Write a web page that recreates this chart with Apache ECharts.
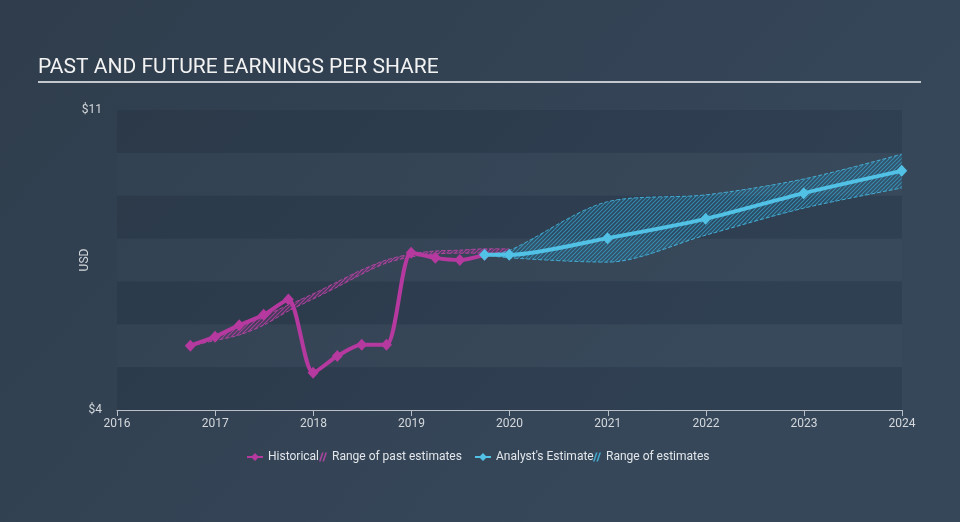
<!DOCTYPE html>
<html><head><meta charset="utf-8">
<script src="https://cdn.jsdelivr.net/npm/echarts@6/dist/echarts.min.js"></script>
<style>html,body{margin:0;padding:0;background:#334252}#c{width:960px;height:522px}</style>
</head><body><div id="c"></div>
<script>
// ---- data ----
const histDates = ['2016-09-30','2016-12-31','2017-03-31','2017-06-30','2017-09-30','2017-12-31','2018-03-31','2018-06-30','2018-09-30','2018-12-31','2019-03-31','2019-06-30','2019-09-30'];
const histEPS   = [5.50,5.71,5.98,6.22,6.58,4.87,5.26,5.52,5.52,7.67,7.55,7.50,7.62];

const pastDates = ['2016-09-30','2016-12-31','2017-03-31','2017-06-30','2017-09-30','2017-12-31','2018-03-31','2018-06-30','2018-09-30','2018-12-31','2019-03-31','2019-06-30','2019-09-30','2019-12-31'];
const pastLow   = [5.50,5.62,5.75,5.98,6.31,6.59,6.87,7.17,7.43,7.57,7.64,7.66,7.66,7.69];
const pastHigh  = [5.50,5.73,5.94,6.19,6.45,6.71,6.99,7.27,7.50,7.64,7.71,7.73,7.76,7.76];

const estDates = ['2019-09-30','2019-12-31','2020-12-31','2021-12-31','2022-12-31','2023-12-31'];
const estEPS   = [7.62,7.62,8.01,8.46,9.06,9.58];
const estLow   = [7.62,7.55,7.45,8.08,8.71,9.18];
const estHigh  = [7.62,7.72,8.86,9.02,9.39,9.97];

const yTickLabels = {4:'$4', 11:'$11'};

// ---- helpers ----
function hatch(line, fill){
  const s=4;
  const c=document.createElement('canvas'); c.width=s; c.height=s;
  const g=c.getContext('2d');
  g.fillStyle=fill; g.fillRect(0,0,s,s);
  g.strokeStyle=line; g.lineWidth=1.1;
  g.beginPath(); g.moveTo(0,s); g.lineTo(s,0); g.moveTo(-1,1); g.lineTo(1,-1); g.moveTo(s-1,s+1); g.lineTo(s+1,s-1); g.stroke();
  return c;
}
const pair=(d,v)=>d.map((x,i)=>[x,v[i]]);
const diff=(d,hi,lo)=>d.map((x,i)=>[x,+(hi[i]-lo[i]).toFixed(3)]);

const MAG='#b5399f', BLU='#52c1e6';
const MAG_H='rgba(190,70,170,0.85)', BLU_H='rgba(70,185,225,0.85)';
const lineIcon='path://M0,3 H5 L8,0 L11,3 H16 V5 H11 L8,8 L5,5 H0 Z';
const hatchIcon='path://M0,9 L1.6,9 L4.6,0 L3,0 Z M3.4,9 L5,9 L8,0 L6.4,0 Z';
const FONT='Roboto, "Noto Sans", sans-serif';

const legendBase={top:451,textStyle:{color:'#e2e6ea',fontSize:12,fontFamily:FONT},selectedMode:false,itemGap:4,padding:0};

const chart=echarts.init(document.getElementById('c'),null,{renderer:'canvas'});
chart.setOption({
  backgroundColor:{type:'linear',x:0,y:0,x2:0.6,y2:1,colorStops:[{offset:0,color:'#2f3d4c'},{offset:1,color:'#36475a'}]},
  animation:false,
  title:{text:'PAST AND FUTURE EARNINGS PER SHARE',left:38,top:57,padding:0,textStyle:{color:'#f2f2f2',fontSize:21,fontWeight:'normal',fontFamily:FONT}},
  graphic:[{type:'line',shape:{x1:38,y1:82,x2:921,y2:82},style:{stroke:'#c3c8ce',lineWidth:2}}],
  grid:{left:117,right:58,top:110,bottom:112},
  legend:[
    Object.assign({},legendBase,{left:247,itemWidth:16,itemHeight:8,data:[{name:'Historical',icon:lineIcon}]}),
    Object.assign({},legendBase,{left:319,itemWidth:8,itemHeight:9,data:[{name:'Range of past estimates',icon:hatchIcon}]}),
    Object.assign({},legendBase,{left:475,itemWidth:16,itemHeight:8,data:[{name:"Analyst's Estimate",icon:lineIcon}]}),
    Object.assign({},legendBase,{left:593,itemWidth:8,itemHeight:9,data:[{name:'Range of estimates',icon:hatchIcon}]})
  ],
  xAxis:{type:'time',min:'2016-01-01',max:'2024-01-01',splitNumber:8,
    axisLine:{lineStyle:{color:'#b8bfc6',width:1}},
    axisTick:{show:true,length:6,lineStyle:{color:'#b8bfc6'}},
    axisLabel:{color:'#d4d8dc',fontSize:12,fontFamily:FONT,margin:8,formatter:'{yyyy}',showMinLabel:true,showMaxLabel:true,hideOverlap:false},
    splitLine:{show:false}},
  yAxis:{type:'value',min:4,max:11,interval:1,name:'USD',nameLocation:'middle',nameGap:26,nameMoveOverlap:false,
    nameTextStyle:{color:'#d4d8dc',fontSize:12,fontFamily:FONT},
    axisLine:{show:false},axisTick:{show:false},splitLine:{show:false},
    axisLabel:{color:'#d4d8dc',fontSize:12,fontFamily:FONT,margin:15,formatter:v=>yTickLabels[v]||''},
    splitArea:{show:true,areaStyle:{color:['rgba(10,20,32,0.12)','rgba(255,255,255,0.012)']}}},
  series:[
    {name:'pastLow',type:'line',stack:'past',data:pair(pastDates,pastLow),smooth:0.3,symbol:'none',
      lineStyle:{color:MAG_H,width:1,type:'dashed'},z:1,silent:true},
    {name:'Range of past estimates',type:'line',stack:'past',data:diff(pastDates,pastHigh,pastLow),smooth:0.3,symbol:'none',
      itemStyle:{color:MAG_H},lineStyle:{color:MAG_H,width:1,type:'dashed'},
      areaStyle:{color:{image:hatch('rgba(185,65,165,0.8)','rgba(150,50,140,0.2)'),repeat:'repeat'},opacity:1},z:1,silent:true},
    {name:'estLow',type:'line',stack:'est',data:pair(estDates,estLow),smooth:0.3,symbol:'none',
      lineStyle:{color:BLU_H,width:1,type:'dashed'},z:1,silent:true},
    {name:'Range of estimates',type:'line',stack:'est',data:diff(estDates,estHigh,estLow),smooth:0.3,symbol:'none',
      itemStyle:{color:BLU_H},lineStyle:{color:BLU_H,width:1,type:'dashed'},
      areaStyle:{color:{image:hatch('rgba(60,170,215,0.65)','rgba(30,120,165,0.2)'),repeat:'repeat'},opacity:1},z:1,silent:true},
    {name:'Historical',type:'line',data:pair(histDates,histEPS),smooth:0.25,symbol:'diamond',symbolSize:[11,12],
      itemStyle:{color:MAG},lineStyle:{color:MAG,width:4},z:3},
    {name:"Analyst's Estimate",type:'line',data:pair(estDates,estEPS),smooth:0.25,symbol:'diamond',symbolSize:[11,12],
      itemStyle:{color:BLU},lineStyle:{color:BLU,width:4},z:4}
  ]
});
</script></body></html>
